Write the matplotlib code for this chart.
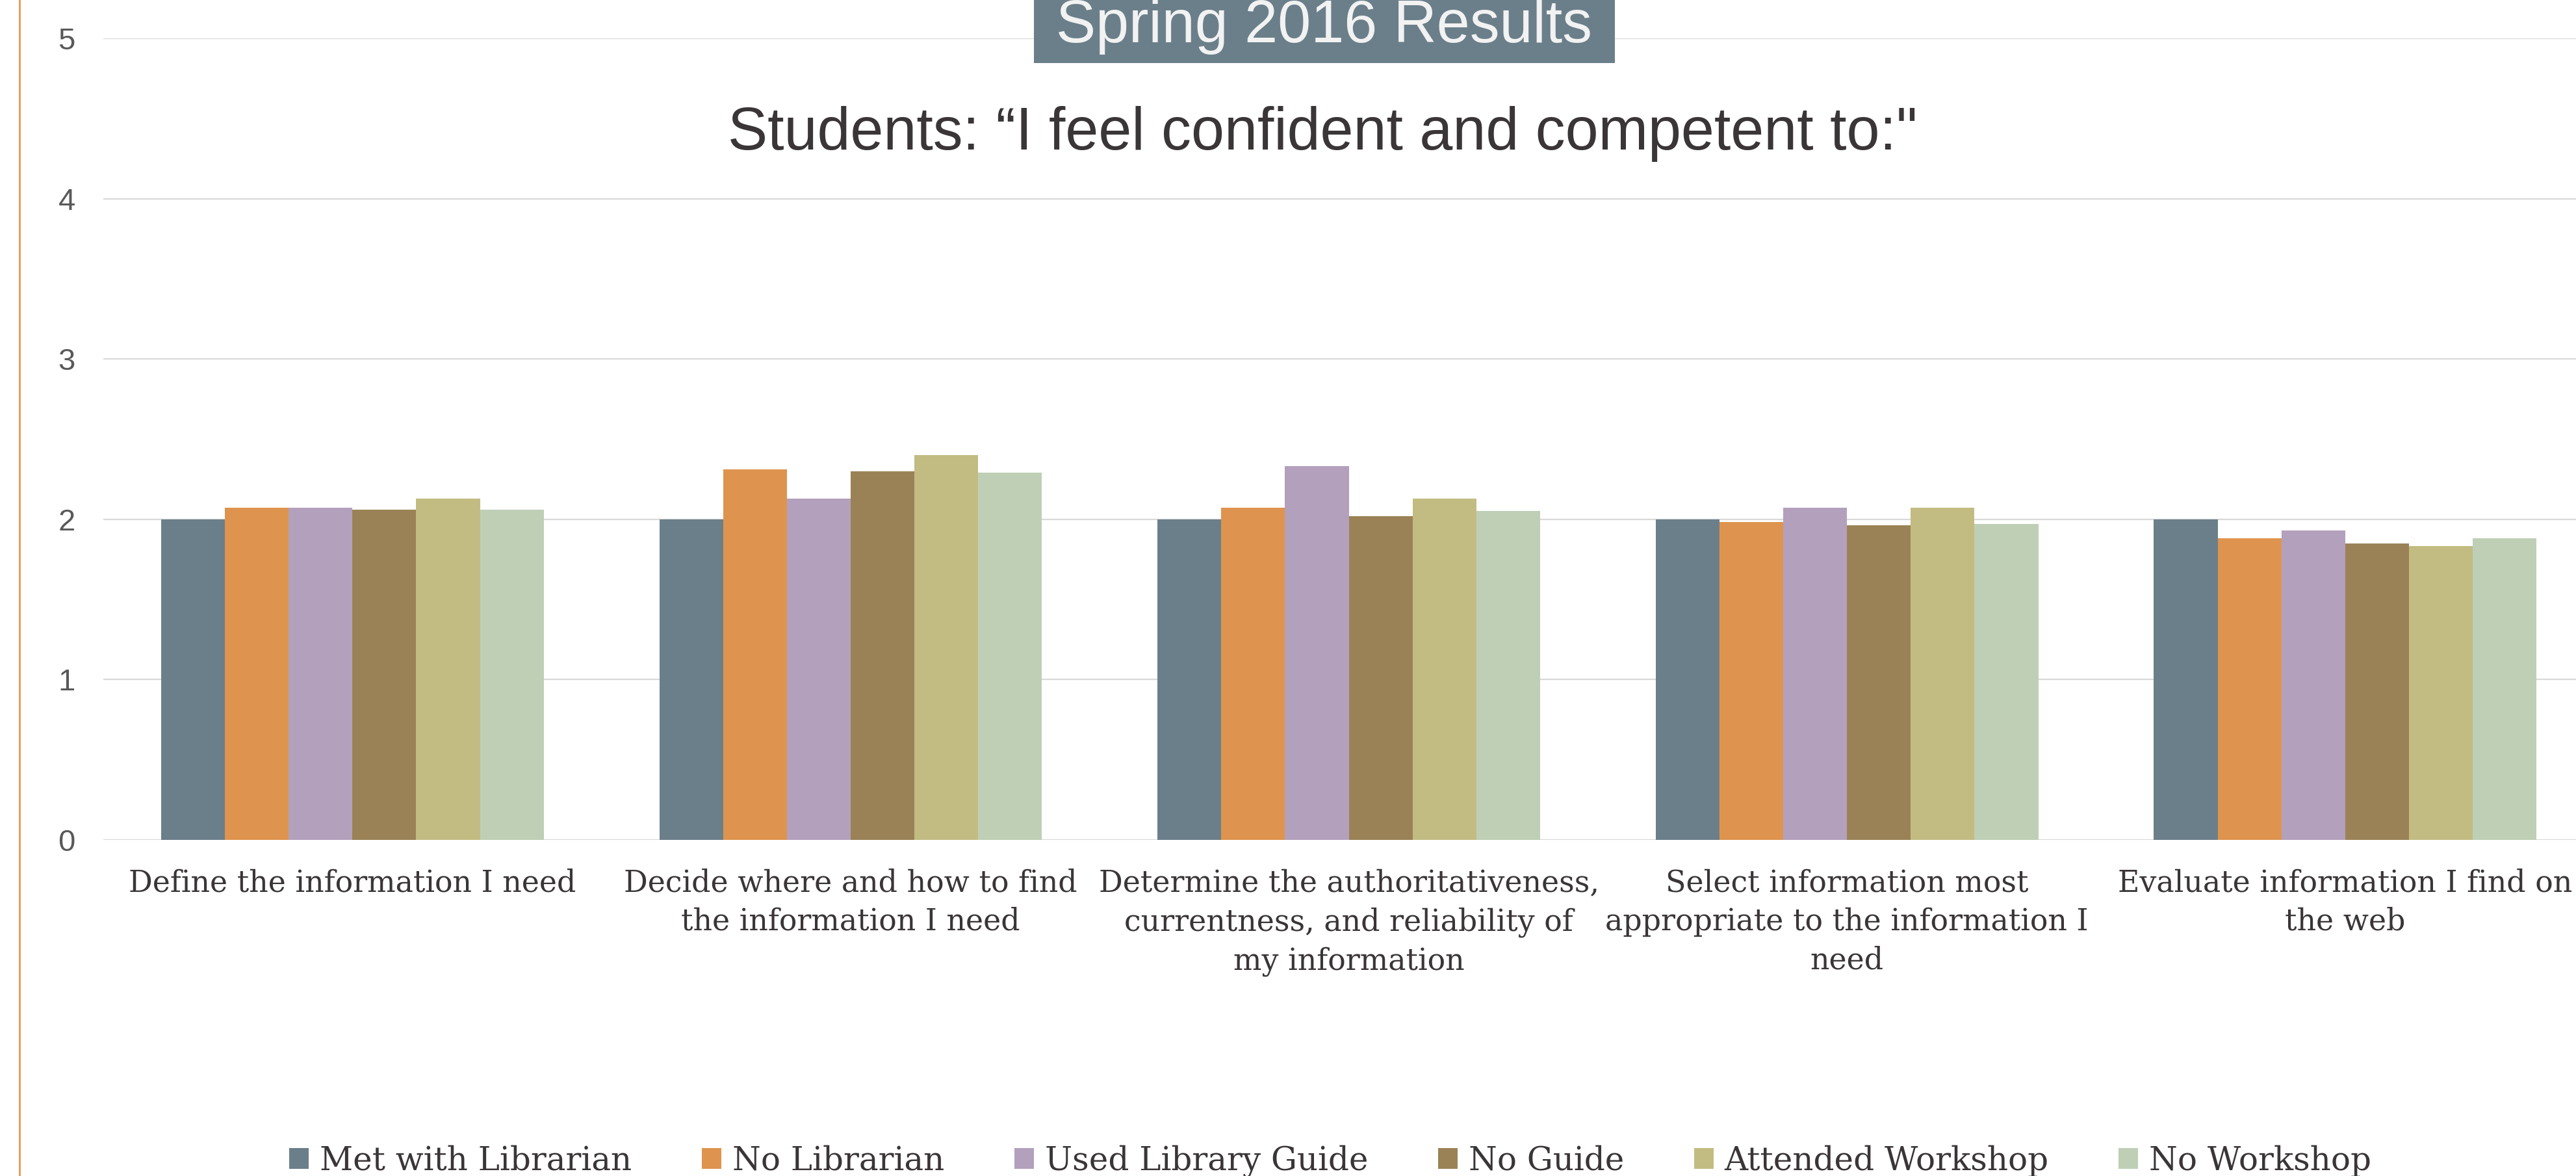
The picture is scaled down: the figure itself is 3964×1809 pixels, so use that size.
import numpy as np
import matplotlib.pyplot as plt
from matplotlib.patches import Rectangle
from matplotlib.lines import Line2D

# categories (x axis)
categories = [
    "Define the information I need",
    "Decide where and how to find\nthe information I need",
    "Determine the authoritativeness,\ncurrentness, and reliability of\nmy information",
    "Select information most\nappropriate to the information I\nneed",
    "Evaluate information I find on\nthe web",
]

# series values
met_librarian = [2.00, 2.00, 2.00, 2.00, 2.00]
no_librarian = [2.07, 2.31, 2.07, 1.98, 1.88]
used_guide = [2.07, 2.13, 2.33, 2.07, 1.93]
no_guide = [2.06, 2.30, 2.02, 1.96, 1.85]
attended_workshop = [2.13, 2.40, 2.13, 2.07, 1.83]
no_workshop = [2.06, 2.29, 2.05, 1.97, 1.88]

series_names = ["Met with Librarian", "No Librarian", "Used Library Guide",
                "No Guide", "Attended Workshop", "No Workshop"]
series_values = [met_librarian, no_librarian, used_guide,
                 no_guide, attended_workshop, no_workshop]
colors = ["#6B7F8A", "#DE944E", "#B3A0BC", "#9B8256", "#C3BC82", "#BECFB5"]

y_ticks = [0, 1, 2, 3, 4, 5]

sans = ["Liberation Sans", "DejaVu Sans"]
slab = ["DejaVu Serif"]
dark = "#3A3536"

fig = plt.figure(figsize=(39.64, 18.09), dpi=100)
ax = fig.add_axes([0.0401, 0.286, 0.967, 0.6814])

x = np.arange(len(categories))
bw = 0.128
for i, (name, vals) in enumerate(zip(series_names, series_values)):
    ax.bar(x + (i - 2.5) * bw, vals, width=bw, color=colors[i], label=name, zorder=3)

ax.set_xlim(-0.5, 4.5)
ax.set_ylim(0, 5)
ax.set_yticks(y_ticks)
ax.set_yticklabels([str(t) for t in y_ticks], family=sans, fontsize=34, color="#595959")
ax.set_xticks(x)
ax.set_xticklabels(categories, family=slab, fontsize=33, color=dark, linespacing=1.4)
ax.tick_params(axis="x", length=0, pad=32)
ax.tick_params(axis="y", length=0, pad=31)
ax.grid(axis="y", color="#D9D9D9", linewidth=1.6, zorder=0)
for s in ax.spines.values():
    s.set_visible(False)

# legend at the bottom
ax.legend(loc="center", bbox_to_anchor=(0.5165, 0.0127), bbox_transform=fig.transFigure,
          ncol=6, frameon=False, handlelength=0.6, handleheight=0.62,
          handletextpad=0.34, columnspacing=2.15,
          prop={"family": slab, "size": 36}, labelcolor=dark)

# title box
fig.add_artist(Rectangle((0.4014, 0.9464), 0.2255, 0.07, transform=fig.transFigure,
                         facecolor="#6B7F8A", edgecolor="none", zorder=5))
fig.text(0.5141, 0.964, "Spring 2016 Results", ha="center", va="baseline",
         family=sans, fontsize=66, color="#F2F2F2", zorder=6)

fig.text(0.5134, 0.8729, "Students: \u201cI feel confident and competent to:\"",
         ha="center", va="baseline", family=sans, fontsize=66, color=dark, zorder=6)

# orange border line on the left
fig.add_artist(Line2D([0.0076, 0.0076], [0, 1], transform=fig.transFigure,
                      color="#DE8F45", linewidth=1.8))

fig.savefig("out.png", dpi=100)
